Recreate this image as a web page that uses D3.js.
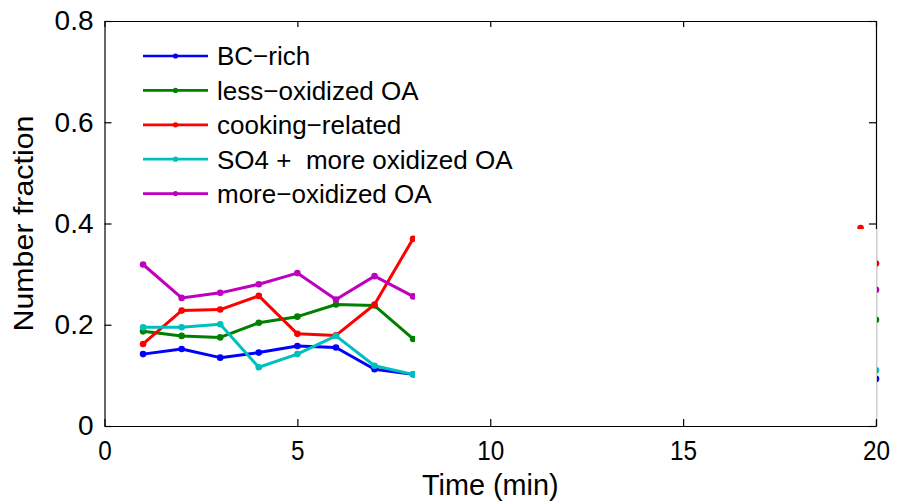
<!DOCTYPE html>
<html>
<head>
<meta charset="utf-8">
<script src="https://cdn.jsdelivr.net/npm/d3@7"></script>
<style>
  body { margin: 0; background: #fff; }
  text { font-family: "Liberation Sans", Arial, Helvetica, sans-serif; fill: #000; }
</style>
</head>
<body>
<div id="graph"></div>
<script>

    // time points (min) and number fractions
    // (null = part of the record hidden in the figure)
    const times = [1, 2, 3, 4, 5, 6, 7, 8, 20];
    const cookingTimes = [1, 2, 3, 4, 5, 6, 7, 8, 9, 19.6, 20];

    const bcRich = [0.142, 0.152, 0.135, 0.145, 0.158, 0.155, 0.112, 0.102, 0.093];
    const lessOxidized = [0.187, 0.178, 0.175, 0.204, 0.216, 0.240, 0.238, 0.172, 0.210];
    const cooking = [0.162, 0.228, 0.230, 0.257, 0.182, 0.179, 0.240, 0.370, null, 0.391, 0.321];
    const so4MoreOx = [0.195, 0.195, 0.201, 0.116, 0.142, 0.178, 0.119, 0.102, 0.110];
    const moreOxidized = [0.319, 0.253, 0.263, 0.280, 0.302, 0.250, 0.296, 0.256, 0.269];

    const seriesNames = ["BC\u2212rich", "less\u2212oxidized OA", "cooking\u2212related",
        "SO4 +  more oxidized OA", "more\u2212oxidized OA"];
    const seriesColors = ["#0000ff", "#008000", "#ff0000", "#00bfbf", "#bf00bf"];

    const xTicks = [0, 5, 10, 15, 20];
    const yTicks = [0, 0.2, 0.4, 0.6, 0.8];

    const w = 897;
    const h = 503;
    const padLeft = 104.5, padRight = 876, padTop = 21, padBottom = 426;

    const series = [
        { name: seriesNames[0], color: seriesColors[0], t: times, v: bcRich },
        { name: seriesNames[1], color: seriesColors[1], t: times, v: lessOxidized },
        { name: seriesNames[2], color: seriesColors[2], t: cookingTimes, v: cooking },
        { name: seriesNames[3], color: seriesColors[3], t: times, v: so4MoreOx },
        { name: seriesNames[4], color: seriesColors[4], t: times, v: moreOxidized }
    ];

    const svg = d3.select('#graph')
        .append('svg')
        .attr('width', w)
        .attr('height', h);

    const xScale = d3.scaleLinear()
        .domain([0, 20])
        .range([padLeft, padRight]);

    const yScale = d3.scaleLinear()
        .domain([0, 0.8])
        .range([padBottom, padTop]);

    const line = d3.line()
        .defined((d) => d[1] != null)
        .x((d) => xScale(d[0]))
        .y((d) => yScale(d[1]));

    // data
    series.forEach(function (s) {
        const pts = s.t.map((t, i) => [t, s.v[i]]);
        svg.append('path')
            .datum(pts)
            .attr('d', line)
            .attr('fill', 'none')
            .attr('stroke', s.color)
            .attr('stroke-width', 3)
            .attr('stroke-linejoin', 'round');
        svg.selectAll(null)
            .data(pts.filter((d) => d[1] != null))
            .enter()
            .append('circle')
            .attr('cx', (d) => xScale(d[0]))
            .attr('cy', (d) => yScale(d[1]))
            .attr('r', 3.3)
            .attr('fill', s.color);
    });

    // axes frame
    const xAxis = d3.axisBottom(xScale)
        .tickValues(xTicks)
        .tickSize(-7)
        .tickSizeOuter(0)
        .tickPadding(15)
        .tickFormat(d3.format("d"));

    const yAxis = d3.axisLeft(yScale)
        .tickValues(yTicks)
        .tickSize(-7)
        .tickSizeOuter(0)
        .tickPadding(11)
        .tickFormat((d) => d === 0 ? "0" : d.toFixed(1));

    const topAxis = d3.axisTop(xScale).tickValues(xTicks).tickSize(-6).tickSizeOuter(0).tickFormat("");
    const rightAxis = d3.axisRight(yScale).tickValues(yTicks).tickSize(-7).tickSizeOuter(0).tickFormat("");

    svg.append('g')
        .attr('transform', 'translate(0,' + padTop + ')')
        .call(topAxis);

    svg.append('g')
        .attr('transform', 'translate(' + padRight + ',0)')
        .call(rightAxis);

    // white patch covering the later part of the record
    svg.append('rect')
        .attr('x', xScale(8.05))
        .attr('y', yScale(0.389))
        .attr('width', xScale(20) + 0.8 - xScale(8.05))
        .attr('height', yScale(0.012) - yScale(0.389))
        .attr('fill', '#fff');

    const gx = svg.append('g')
        .attr('transform', 'translate(0,' + padBottom + ')')
        .call(xAxis);

    const gy = svg.append('g')
        .attr('transform', 'translate(' + padLeft + ',0)')
        .call(yAxis);

    svg.selectAll('.domain, .tick line')
        .attr('stroke', '#000')
        .attr('stroke-width', 1.2);

    gx.selectAll('text')
        .attr('font-size', 27)
        .attr('transform', 'scale(0.9,1)');

    gy.selectAll('text')
        .attr('font-size', 28);

    // axis titles
    svg.append('text')
        .attr('transform', 'translate(' + xScale(10) + ',495) scale(0.96,1)')
        .attr('text-anchor', 'middle')
        .attr('font-size', 30)
        .text('Time (min)');

    svg.append('text')
        .attr('transform', 'translate(33,' + yScale(0.4) + ') rotate(-90)')
        .attr('text-anchor', 'middle')
        .attr('font-size', 28)
        .attr('textLength', 216)
        .attr('lengthAdjust', 'spacingAndGlyphs')
        .text('Number fraction');

    // legend
    const legend = svg.selectAll('.legend')
        .data(series)
        .enter().append('g')
        .attr('class', 'legend')
        .attr('transform', (d, i) => 'translate(143,' + (56 + i * 34.4) + ')');

    legend.append('line')
        .attr('x1', 0)
        .attr('x2', 65)
        .attr('stroke', (d) => d.color)
        .attr('stroke-width', 2.7);

    legend.append('circle')
        .attr('cx', 32.5)
        .attr('r', 2.6)
        .attr('fill', (d) => d.color);

    legend.append('text')
        .attr('x', 74)
        .attr('y', 9.3)
        .attr('font-size', 26)
        .style('white-space', 'pre')
        .text((d) => d.name);

</script>
</body>
</html>
